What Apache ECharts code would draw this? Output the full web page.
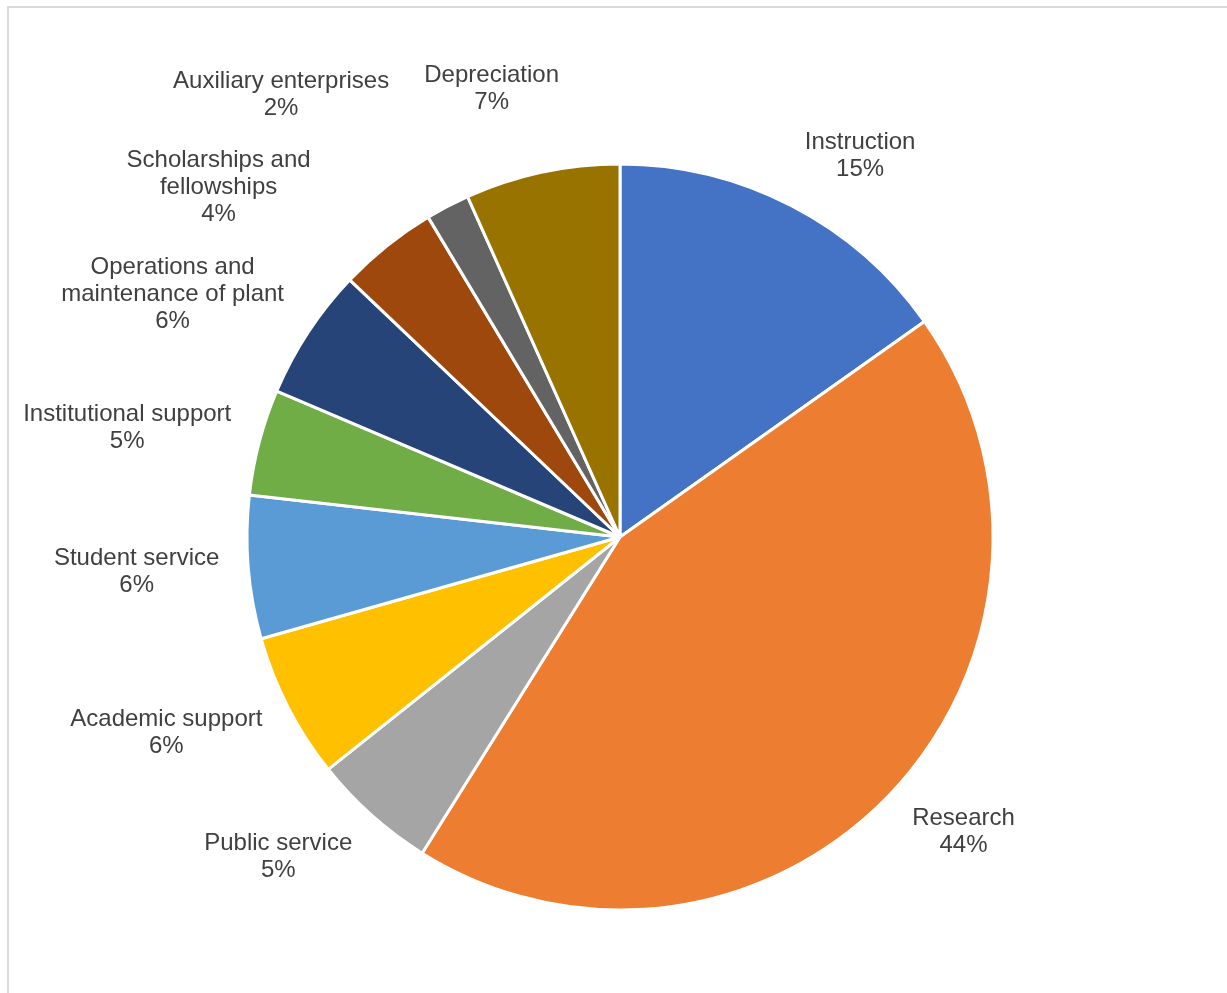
<!DOCTYPE html>
<html lang="en">
<head>
    <meta charset="UTF-8">
    <title>Expenses pie</title>
    <script src="https://cdn.jsdelivr.net/npm/echarts@6/dist/echarts.min.js"></script>
    <style>
        html, body { margin: 0; padding: 0; background: #fff; }
    </style>
</head>
<body>
<div id="main" style="width:1227px; height:993px"></div>

<script type="text/javascript">
    // categories and shares (percent)
    var categories = [
        'Instruction',
        'Research',
        'Public service',
        'Academic support',
        'Student service',
        'Institutional support',
        'Operations and\nmaintenance of plant',
        'Scholarships and\nfellowships',
        'Auxiliary enterprises',
        'Depreciation'
    ];
    var values = [15.2, 43.7, 5.4, 6.3, 6.2, 4.6, 5.7, 4.3, 1.9, 6.7];
    var colors = ['#4472C4', '#ED7D31', '#A5A5A5', '#FFC000', '#5B9BD5',
                  '#70AD47', '#264478', '#9E480E', '#636363', '#997300'];

    var CX = 620, CY = 537, R = 373;   // pie centre and radius
    var GAP = 29;                       // rim to label anchor
    // crowded labels at the top get pushed aside (Excel best fit)
    var labelShift = { 7: [-58, -4], 8: [-45, -62], 9: [23, -29] };

    var total = values.reduce(function (a, b) { return a + b; }, 0);

    var chartDom = document.getElementById('main');
    var myChart = echarts.init(chartDom);

    var option = {
        animation: false,
        color: colors,
        graphic: [{
            type: 'rect',
            shape: { x: 8, y: 7, width: 1400, height: 1200 },
            style: { fill: 'none', stroke: '#d9d9d9', lineWidth: 2 },
            silent: true
        }],
        series: [{
            type: 'pie',
            center: [CX, CY],
            radius: R,
            startAngle: 90,
            clockwise: true,
            avoidLabelOverlap: false,
            itemStyle: { borderColor: '#fff', borderWidth: 3 },
            label: {
                show: true,
                position: 'outside',
                color: '#404040',
                fontSize: 24,
                lineHeight: 27,
                fontFamily: 'Arial, "Liberation Sans", sans-serif',
                formatter: function (p) {
                    return p.name + '\n' + Math.round(p.percent) + '%';
                }
            },
            labelLine: { show: false },
            labelLayout: function (p) {
                var i = p.dataIndex;
                var before = 0;
                for (var k = 0; k < i; k++) before += values[k];
                var mid = (before + values[i] / 2) / total * Math.PI * 2;
                var dx = Math.sin(mid), dy = -Math.cos(mid);
                var w = p.labelRect.width, h = p.labelRect.height;
                // anchor just outside the rim, box hangs off it away from the pie
                var x = CX + dx * (R + GAP) + (dx < 0 ? -1 : 1) * w / 2;
                var y = CY + dy * (R + GAP) + dy * h / 2;
                if (labelShift[i]) { x += labelShift[i][0]; y += labelShift[i][1]; }
                return { x: x, y: y, align: 'center', verticalAlign: 'middle' };
            },
            data: categories.map(function (c, i) {
                return { name: c, value: values[i] };
            })
        }]
    };

    myChart.setOption(option);
</script>
</body>
</html>
